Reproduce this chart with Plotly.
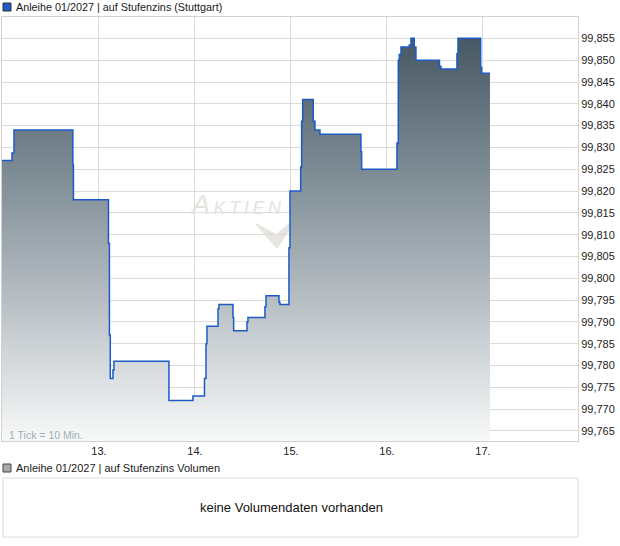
import plotly.graph_objects as go

# price steps (x = day of month incl. intraday fraction, y = price)
day_pos = [11.99, 12.094, 12.115, 12.728, 12.734, 13.099, 13.109, 13.118, 13.146, 13.156,
           13.729, 13.979, 14.099, 14.115, 14.125, 14.240, 14.250, 14.396, 14.403, 14.542,
           14.552, 14.729, 14.740, 14.875, 14.885, 14.979, 14.990, 15.101, 15.111, 15.122,
           15.232, 15.250, 15.302, 15.729, 15.736, 16.104, 16.118, 16.128, 16.146, 16.232,
           16.250, 16.284, 16.302, 16.547, 16.563, 16.729, 16.740, 16.976, 16.986, 17.073]
price = [99.827, 99.8287, 99.834, 99.826, 99.818, 99.808, 99.787, 99.777, 99.779, 99.781,
         99.772, 99.773, 99.777, 99.785, 99.789, 99.793, 99.794, 99.791, 99.788, 99.790,
         99.791, 99.7935, 99.796, 99.7945, 99.794, 99.807, 99.820, 99.8255, 99.836, 99.841,
         99.836, 99.834, 99.833, 99.829, 99.825, 99.831, 99.850, 99.8513, 99.853, 99.8535,
         99.855, 99.853, 99.850, 99.8486, 99.848, 99.8515, 99.855, 99.8484, 99.847, 99.847]

x_ticks = [13, 14, 15, 16, 17]
x_labels = ["13.", "14.", "15.", "16.", "17."]
y_ticks = [99.765, 99.770, 99.775, 99.780, 99.785, 99.790, 99.795, 99.800, 99.805, 99.810,
           99.815, 99.820, 99.825, 99.830, 99.835, 99.840, 99.845, 99.850, 99.855]
y_labels = ["99,765", "99,770", "99,775", "99,780", "99,785", "99,790", "99,795", "99,800",
            "99,805", "99,810", "99,815", "99,820", "99,825", "99,830", "99,835", "99,840",
            "99,845", "99,850", "99,855"]

W, H = 620, 546
L, R, T, B = 2, 42, 17, 105
PW, PH = W - L - R, H - T - B


def px(x):
    return (x - L) / PW


def py(y):
    return (H - B - y) / PH


FONT = "Liberation Sans, Arial, sans-serif"

fig = go.Figure()

fig.add_trace(go.Scatter(
    x=day_pos, y=price,
    mode="lines",
    line=dict(color="#1c5bc6", width=1.5, shape="hv"),
    fill="tozeroy",
    fillgradient=dict(
        type="vertical",
        colorscale=[[0, "#f8f9f9"], [0.42, "#aab3b9"], [0.67, "#7d8b94"], [1, "#485864"]],
        start=99.7627, stop=99.855,
    ),
    hoverinfo="skip",
    showlegend=False,
))

shapes = [
    # legend squares
    dict(type="rect", xref="paper", yref="paper", x0=px(3), x1=px(11), y0=py(11), y1=py(3),
         fillcolor="#1f5bc8", line=dict(color="#333333", width=1)),
    dict(type="rect", xref="paper", yref="paper", x0=px(3), x1=px(11), y0=py(472), y1=py(464),
         fillcolor="#a9a9a9", line=dict(color="#444444", width=1)),
    # volume box
    dict(type="rect", xref="paper", yref="paper", x0=px(3), x1=px(578), y0=py(537), y1=py(478),
         fillcolor="rgba(0,0,0,0)", line=dict(color="#dcdcdc", width=1)),
    # watermark check
    dict(type="path", xref="paper", yref="paper", layer="between",
         path="M {} {} L {} {} L {} {} L {} {} L {} {} Z".format(
             px(256), py(223), px(276), py(234), px(300), py(214), px(277), py(249), px(256), py(225)),
         fillcolor="#e8e4e0", line=dict(width=0)),
]

annotations = [
    dict(text="Anleihe 01/2027 | auf Stufenzins (Stuttgart)", x=px(14), y=py(7),
         xanchor="left", yanchor="middle", font=dict(size=10.8, color="#1a1a1a")),
    dict(text="Anleihe 01/2027 | auf Stufenzins Volumen", x=px(14), y=py(468),
         xanchor="left", yanchor="middle", font=dict(size=11, color="#1a1a1a")),
    dict(text="keine Volumendaten vorhanden", x=px(291), y=py(507),
         xanchor="center", yanchor="middle", font=dict(size=13, color="#111111")),
    dict(text="1 Tick = 10 Min.", x=px(7), y=py(435),
         xanchor="left", yanchor="middle", font=dict(size=10.5, color="#a3adb6")),
    dict(text="<i><span style='font-size:27px'>A</span>\u2009K\u2009T\u2009I\u2009E\u2009N</i>",
         x=px(236), y=py(205), xanchor="center", yanchor="middle",
         font=dict(size=18, color="#e6e2dd")),
]
for a in annotations:
    a.update(xref="paper", yref="paper", showarrow=False)

fig.update_layout(
    width=W, height=H,
    margin=dict(l=L, r=R, t=T, b=B),
    paper_bgcolor="white", plot_bgcolor="white",
    font=dict(family=FONT, size=11, color="#222222"),
    shapes=shapes,
    annotations=annotations,
    xaxis=dict(
        range=[11.99, 17.99],
        tickvals=x_ticks, ticktext=x_labels,
        showgrid=True, gridcolor="#dcdcdc", gridwidth=1,
        showline=True, linecolor="#d2d2d2", linewidth=1, mirror=True,
        ticks="", zeroline=False,
        tickfont=dict(size=11, color="#222222"),
    ),
    yaxis=dict(
        range=[99.7627, 99.8599],
        side="right",
        tickvals=y_ticks, ticktext=y_labels,
        showgrid=True, gridcolor="#dcdcdc", gridwidth=1,
        showline=True, linecolor="#d2d2d2", linewidth=1, mirror=True,
        ticks="", zeroline=False,
        tickfont=dict(size=11, color="#222222"),
    ),
)

# page has a default 8px body margin; drop it so the figure sits at the top-left corner
fig.write_html(
    "out.html",
    config={"displayModeBar": False},
    post_script="document.body.style.margin='0';document.body.style.overflow='hidden';",
)
